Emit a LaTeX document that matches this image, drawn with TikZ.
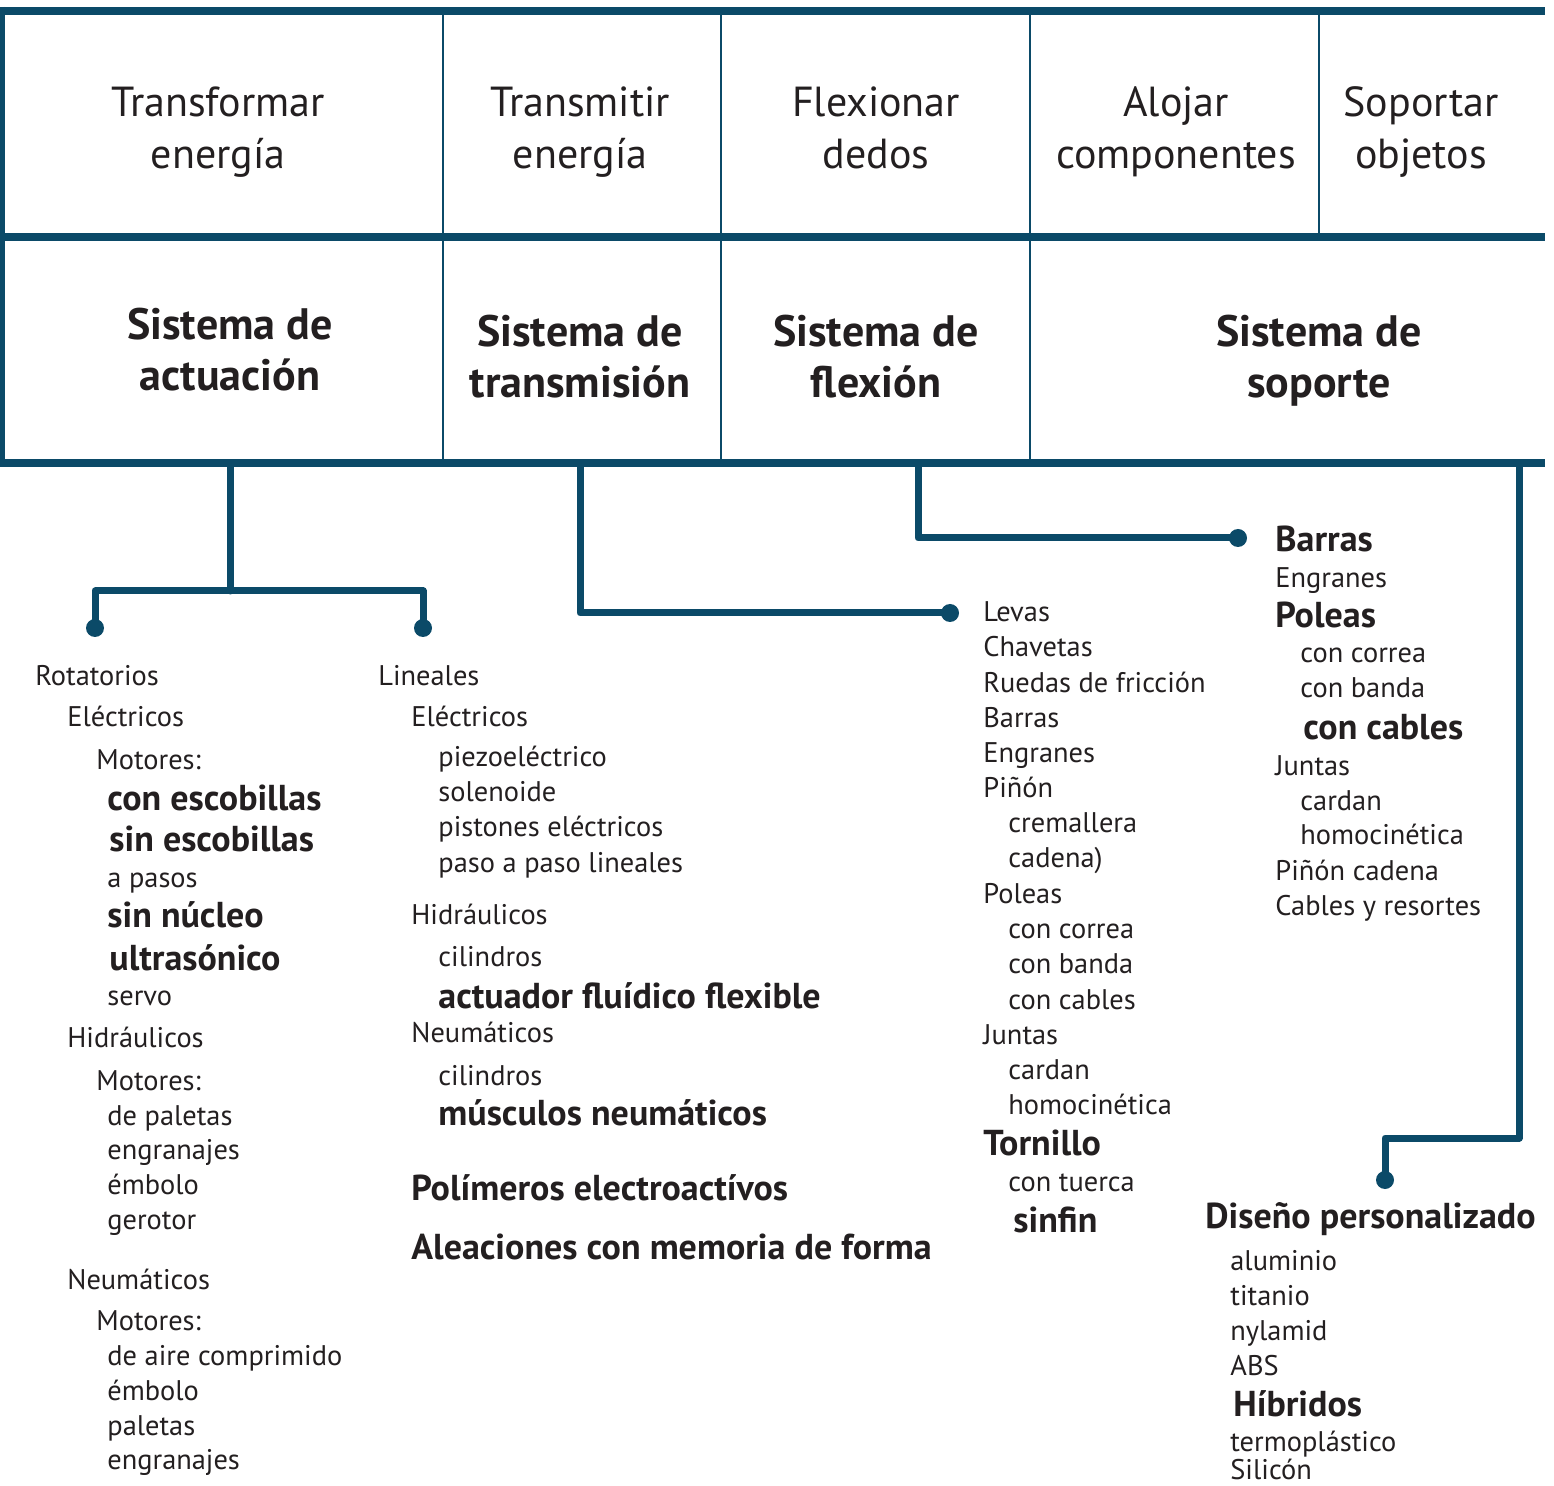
\documentclass[tikz,border=0pt]{standalone}
\usepackage{fontspec}
\setmainfont{PT Sans}
\definecolor{navy}{HTML}{0B4A68}
\definecolor{ink}{HTML}{231F20}
\begin{document}
\begin{tikzpicture}[x=0.5pt,y=-0.5pt,
  frame/.style={draw=navy,line width=4pt},
  sepline/.style={draw=navy,line width=1.4pt},
  conn/.style={draw=navy,line width=3.5pt,line join=round,line cap=round},
  dotn/.style={circle,fill=navy,inner sep=0pt,minimum size=9pt},
  hd/.style={anchor=base,inner sep=0pt,text=ink,font=\fontsize{21}{24}\selectfont},
  hb/.style={anchor=base,inner sep=0pt,text=ink,font=\fontsize{22}{26}\selectfont\bfseries},
  it/.style={anchor=base west,inner sep=0pt,text=ink,font=\fontsize{14.2}{16}\selectfont},
  itb/.style={anchor=base west,inner sep=0pt,text=ink,font=\fontsize{18}{20}\selectfont\bfseries},
]
\useasboundingbox (0,0) rectangle (1554,1486);
% table
\draw[frame] (0,11) -- (1545,11);
\draw[frame] (0,237) -- (1545,237);
\draw[frame] (0,463) -- (1545,463);
\draw[draw=navy,line width=2.5pt] (2,7) -- (2,467);
\draw[sepline] (443,11) -- (443,463);
\draw[sepline] (721,11) -- (721,463);
\draw[sepline] (1030,11) -- (1030,463);
\draw[sepline] (1319,11) -- (1319,237);
% header row 1
\node[hd] (h1a) at (218,117) {Transformar};
\node[hd] (h1b) at (218,169) {energía};
\node[hd] (h2a) at (580,117) {Transmitir};
\node[hd] (h2b) at (580,169) {energía};
\node[hd] (h3a) at (876,117) {Flexionar};
\node[hd] (h3b) at (876,169) {dedos};
\node[hd] (h4a) at (1176,117) {Alojar};
\node[hd] (h4b) at (1176,169) {componentes};
\node[hd] (h5a) at (1421,117) {Soportar};
\node[hd] (h5b) at (1421,169) {objetos};
% header row 2
\node[hb] (s1a) at (230,340) {Sistema de};
\node[hb] (s1b) at (230,391) {actuación};
\node[hb] (s2a) at (580,347) {Sistema de};
\node[hb] (s2b) at (580,398) {transmisión};
\node[hb] (s3a) at (876,347) {Sistema de};
\node[hb] (s3b) at (876,398) {flexión};
\node[hb] (s4a) at (1319,347) {Sistema de};
\node[hb] (s4b) at (1319,398) {soporte};
% connectors
\coordinate (a0) at (230,463);
\coordinate (aJ) at (230,591);
\node[dotn] (dL) at (95,628) {};
\node[dotn] (dR) at (423,628) {};
\draw[conn] (a0) -- (aJ);
\draw[conn] (dL.center) |- (aJ) -| (dR.center);
\coordinate (b0) at (580,463);
\node[dotn] (dT) at (950,613) {};
\draw[conn] (b0) |- (dT.center);
\coordinate (c0) at (918,463);
\node[dotn] (dF) at (1238,538) {};
\draw[conn] (c0) |- (dF.center);
\coordinate (e0) at (1519,463);
\coordinate (eK) at (1385,1138);
\node[dotn] (dS) at (1385,1180) {};
\draw[conn] (e0) |- (eK) -- (dS.center);
% column 1
\node[it] (r1) at (35,686) {Rotatorios};
\node[it] (r2) at (67,727) {Eléctricos};
\node[it] (r3) at (96,770) {Motores:};
\node[itb] (r4) at (107,811) {con escobillas};
\node[itb] (r5) at (109,852) {sin escobillas};
\node[it] (r6) at (107,887) {a pasos};
\node[itb] (r7) at (107,928) {sin núcleo};
\node[itb] (r8) at (109,970) {ultrasónico};
\node[it] (r9) at (107,1005) {servo};
\node[it] (r10) at (67,1047) {Hidráulicos};
\node[it] (r11) at (96,1090) {Motores:};
\node[it] (r12) at (107,1125) {de paletas};
\node[it] (r13) at (107,1159) {engranajes};
\node[it] (r14) at (107,1194) {émbolo};
\node[it] (r15) at (107,1229) {gerotor};
\node[it] (r16) at (67,1289) {Neumáticos};
\node[it] (r17) at (96,1330) {Motores:};
\node[it] (r18) at (107,1365) {de aire comprimido};
\node[it] (r19) at (107,1400) {émbolo};
\node[it] (r20) at (107,1435) {paletas};
\node[it] (r21) at (107,1469) {engranajes};
% column 2
\node[it] (l1) at (378,686) {Lineales};
\node[it] (l2) at (411,727) {Eléctricos};
\node[it] (l3) at (438,767) {piezoeléctrico};
\node[it] (l4) at (438,802) {solenoide};
\node[it] (l5) at (438,837) {pistones eléctricos};
\node[it] (l6) at (438,872) {paso a paso lineales};
\node[it] (l7) at (411,924) {Hidráulicos};
\node[it] (l8) at (438,966) {cilindros};
\node[itb] (l9) at (438,1008) {actuador fluídico flexible};
\node[it] (l10) at (411,1042) {Neumáticos};
\node[it] (l11) at (438,1085) {cilindros};
\node[itb] (l12) at (438,1125) {músculos neumáticos};
\node[itb] (l13) at (411,1200) {Polímeros electroactívos};
\node[itb] (l14) at (411,1259) {Aleaciones con memoria de forma};
% column 3
\node[it] (t1) at (983,622) {Levas};
\node[it] (t2) at (983,657) {Chavetas};
\node[it] (t3) at (983,693) {Ruedas de fricción};
\node[it] (t4) at (983,728) {Barras};
\node[it] (t5) at (983,763) {Engranes};
\node[it] (t6) at (983,798) {Piñón};
\node[it] (t7) at (1008,833) {cremallera};
\node[it] (t8) at (1008,868) {cadena)};
\node[it] (t9) at (983,903) {Poleas};
\node[it] (t10) at (1008,938) {con correa};
\node[it] (t11) at (1008,973) {con banda};
\node[it] (t12) at (1008,1009) {con cables};
\node[it] (t13) at (983,1044) {Juntas};
\node[it] (t14) at (1008,1079) {cardan};
\node[it] (t15) at (1008,1114) {homocinética};
\node[itb] (t16) at (983,1155) {Tornillo};
\node[it] (t17) at (1008,1191) {con tuerca};
\node[itb] (t18) at (1013,1232) {sinfin};
% column 4
\node[itb] (f1) at (1275,552) {Barras};
\node[it] (f2) at (1275,588) {Engranes};
\node[itb] (f3) at (1275,628) {Poleas};
\node[it] (f4) at (1300,663) {con correa};
\node[it] (f5) at (1300,698) {con banda};
\node[itb] (f6) at (1303,740) {con cables};
\node[it] (f7) at (1275,776) {Juntas};
\node[it] (f8) at (1300,811) {cardan};
\node[it] (f9) at (1300,845) {homocinética};
\node[it] (f10) at (1275,880) {Piñón cadena};
\node[it] (f11) at (1275,915) {Cables y resortes};
% column 5
\node[itb] (p1) at (1205,1228) {Diseño personalizado};
\node[it] (p2) at (1230,1270) {aluminio};
\node[it] (p3) at (1230,1305) {titanio};
\node[it] (p4) at (1230,1340) {nylamid};
\node[it] (p5) at (1230,1375) {ABS};
\node[itb] (p6) at (1233,1416) {Híbridos};
\node[it] (p7) at (1230,1451) {termoplástico};
\node[it] (p8) at (1230,1479) {Silicón};
\end{tikzpicture}
\end{document}
